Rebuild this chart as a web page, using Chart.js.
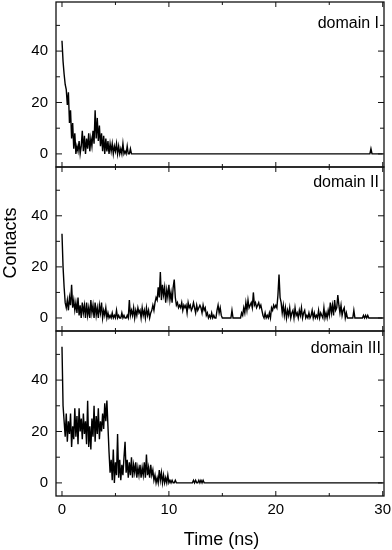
<!DOCTYPE html>
<html>
<head>
<meta charset="utf-8">
<script src="https://cdn.jsdelivr.net/npm/chart.js@4.4.1/dist/chart.umd.min.js"></script>
<style>
html, body { margin: 0; padding: 0; background: #fff; }
#wrap { position: relative; width: 392px; height: 550px; overflow: hidden; }
#wrap canvas { position: absolute; left: 0; top: 0; }
</style>
</head>
<body>
<div id="wrap">
  <canvas id="c1" width="392" height="550" style="width:392px;height:550px"></canvas>
  <canvas id="c2" width="392" height="550" style="width:392px;height:550px"></canvas>
  <canvas id="c3" width="392" height="550" style="width:392px;height:550px"></canvas>
</div>
<script>
// ---- data (contacts vs time, sampled every 0.1 ns from t = 0 to 30 ns) ----
const TIME_STEP_NS = 0.1;
const panelLabels = ['domain I', 'domain II', 'domain III'];
const xAxisTitle = 'Time (ns)';
const yAxisTitle = 'Contacts';
const xTickValues = [0, 10, 20, 30];
const xMinorTickValues = [5, 15, 25];
const yTickValues = [0, 20, 40];
const yMinorTickValues = [10, 30, 50];

const domainI = [
  44,36,31,27,25,19,24,12,17,6,
  12,2,8,0,3,1,5,0,3,9,
  1,7,0,6,2,8,1,6,3,9,
  4,17,6,14,5,11,3,8,1,7,
  0,6,1,5,0,4,1,4,0,3,
  1,4,0,3,0,2,0,4,0,1,
  0,3,0,0,2,0,0,0,0,0,
  0,0,0,0,0,0,0,0,0,0,
  0,0,0,0,0,0,0,0,0,0,
  0,0,0,0,0,0,0,0,0,0,
  0,0,0,0,0,0,0,0,0,0,
  0,0,0,0,0,0,0,0,0,0,
  0,0,0,0,0,0,0,0,0,0,
  0,0,0,0,0,0,0,0,0,0,
  0,0,0,0,0,0,0,0,0,0,
  0,0,0,0,0,0,0,0,0,0,
  0,0,0,0,0,0,0,0,0,0,
  0,0,0,0,0,0,0,0,0,0,
  0,0,0,0,0,0,0,0,0,0,
  0,0,0,0,0,0,0,0,0,0,
  0,0,0,0,0,0,0,0,0,0,
  0,0,0,0,0,0,0,0,0,0,
  0,0,0,0,0,0,0,0,0,0,
  0,0,0,0,0,0,0,0,0,0,
  0,0,0,0,0,0,0,0,0,0,
  0,0,0,0,0,0,0,0,0,0,
  0,0,0,0,0,0,0,0,0,0,
  0,0,0,0,0,0,0,0,0,0,
  0,0,0,0,0,0,0,0,0,2,
  0,0,0,0,0,0,0,0,0,0,
  0
];

const domainII = [
  33,20,12,6,4,7,3,8,5,13,
  4,7,3,6,2,8,1,5,0,6,
  2,5,0,6,1,4,0,7,2,5,
  0,6,1,4,0,5,2,6,0,3,
  1,4,0,2,0,1,0,2,0,1,
  0,3,0,1,0,0,2,0,1,0,
  0,1,0,7,1,3,1,4,0,3,
  1,4,2,3,0,4,1,3,0,4,
  1,3,0,2,3,5,3,6,8,7,
  12,8,18,7,13,9,12,6,11,8,
  13,7,10,6,12,15,8,5,6,4,
  5,4,6,3,5,4,5,2,6,4,
  5,3,4,6,4,2,5,3,4,5,
  4,2,5,3,4,1,2,0,1,0,
  2,0,1,0,0,3,5,2,4,1,
  0,0,0,0,0,0,0,0,0,3,
  0,0,0,0,0,0,0,0,2,1,
  4,2,6,3,7,4,5,6,4,10,
  5,6,4,5,6,4,5,3,1,0,
  2,0,1,0,2,0,4,3,5,4,
  5,4,9,17,8,6,2,5,1,4,
  0,3,1,4,0,2,3,0,4,1,
  2,0,3,1,4,0,2,3,0,1,
  0,2,0,1,3,0,2,0,1,0,
  3,0,2,1,0,4,0,2,0,3,
  1,6,2,5,1,7,3,4,9,5,
  2,5,1,3,4,0,2,0,0,0,
  0,0,0,3,0,0,0,0,0,0,
  0,0,1,0,1,0,1,0,0,0,
  0,0,0,0,0,0,0,0,0,0,
  0
];

const domainIII = [
  53,30,24,18,27,16,24,19,27,14,
  22,17,29,18,26,15,29,20,25,17,
  27,19,24,15,32,14,22,13,25,18,
  30,16,26,19,29,17,24,20,27,21,
  31,24,32,22,12,4,9,1,13,0,
  8,3,19,2,9,1,7,3,10,16,
  4,9,2,8,3,10,2,7,4,8,
  2,6,3,7,2,6,3,8,2,11,
  3,6,2,7,3,5,1,3,0,2,
  0,5,1,4,0,3,0,2,0,3,
  0,1,0,1,0,0,1,0,0,0,
  0,0,0,0,0,0,0,0,0,0,
  0,0,0,1,0,1,0,0,1,0,
  1,0,1,0,0,0,0,0,0,0,
  0,0,0,0,0,0,0,0,0,0,
  0,0,0,0,0,0,0,0,0,0,
  0,0,0,0,0,0,0,0,0,0,
  0,0,0,0,0,0,0,0,0,0,
  0,0,0,0,0,0,0,0,0,0,
  0,0,0,0,0,0,0,0,0,0,
  0,0,0,0,0,0,0,0,0,0,
  0,0,0,0,0,0,0,0,0,0,
  0,0,0,0,0,0,0,0,0,0,
  0,0,0,0,0,0,0,0,0,0,
  0,0,0,0,0,0,0,0,0,0,
  0,0,0,0,0,0,0,0,0,0,
  0,0,0,0,0,0,0,0,0,0,
  0,0,0,0,0,0,0,0,0,0,
  0,0,0,0,0,0,0,0,0,0,
  0,0,0,0,0,0,0,0,0,0,
  0
];

// ---- rendering ----
const FONT = '"Liberation Sans", Arial, Helvetica, sans-serif';
Chart.defaults.font.family = FONT;
Chart.defaults.color = '#000';

function toPoints(values) {
  return values.map((v, i) => ({ x: Math.round(i * TIME_STEP_NS * 100) / 100, y: v }));
}

const framePlugin = {
  id: 'frame',
  afterDraw(chart, args, o) {
    const { ctx, chartArea: a } = chart;
    const xs = chart.scales.x, ys = chart.scales.y;
    ctx.save();
    ctx.strokeStyle = '#111';
    ctx.lineWidth = 1;
    ctx.beginPath();
    const seg = (x1, y1, x2, y2) => { ctx.moveTo(x1, y1); ctx.lineTo(x2, y2); };
    const xt = (v, len) => { const p = xs.getPixelForValue(v); seg(p, a.bottom, p, a.bottom - len); seg(p, a.top, p, a.top + len); };
    const yt = (v, len) => { const p = ys.getPixelForValue(v); seg(a.left, p, a.left + len, p); seg(a.right, p, a.right - len, p); };
    xTickValues.forEach(v => xt(v, 5));
    xMinorTickValues.forEach(v => xt(v, 3));
    yTickValues.forEach(v => yt(v, 6));
    yMinorTickValues.forEach(v => yt(v, 4));
    ctx.stroke();
    ctx.lineWidth = 1.3;
    ctx.strokeRect(a.left, a.top, a.right - a.left, a.bottom - a.top);

    ctx.fillStyle = '#000';
    ctx.font = '16px ' + FONT;
    ctx.textAlign = 'right';
    ctx.textBaseline = 'alphabetic';
    ctx.fillText(o.label, a.right - o.dx, a.top + o.dy);

    if (o.yTitle) {
      ctx.save();
      ctx.font = '18px ' + FONT;
      ctx.textAlign = 'center';
      ctx.translate(16, (a.top + a.bottom) / 2 - 6);
      ctx.rotate(-Math.PI / 2);
      ctx.fillText(o.yTitle, 0, 0);
      ctx.restore();
    }
    if (o.xTitle) {
      ctx.font = '18px ' + FONT;
      ctx.textAlign = 'center';
      ctx.fillText(o.xTitle, (a.left + a.right) / 2 + 1.5, a.bottom + 49);
    }
    ctx.restore();
  }
};

const panels = [
  { id: 'c1', values: domainI,   label: panelLabels[0], top: 2,   bottom: 167, dx: 5, dy: 26, showX: false },
  { id: 'c2', values: domainII,  label: panelLabels[1], top: 167, bottom: 331, dx: 5, dy: 20, showX: false, yTitle: yAxisTitle },
  { id: 'c3', values: domainIII, label: panelLabels[2], top: 331, bottom: 496, dx: 3, dy: 22, showX: true, xTitle: xAxisTitle }
];

panels.forEach(p => {
  new Chart(document.getElementById(p.id), {
    type: 'line',
    data: {
      datasets: [{
        data: toPoints(p.values),
        borderColor: '#000',
        borderWidth: 1.4,
        pointRadius: 0,
        tension: 0,
        fill: false
      }]
    },
    options: {
      responsive: false,
      animation: false,
      events: [],
      layout: { padding: { top: p.top, bottom: p.showX ? 0 : 550 - p.bottom, left: 0, right: 8 } },
      plugins: {
        legend: { display: false },
        tooltip: { enabled: false },
        frame: { label: p.label, dx: p.dx, dy: p.dy, yTitle: p.yTitle, xTitle: p.xTitle }
      },
      scales: {
        x: {
          type: 'linear',
          min: -0.56,
          max: 30.12,
          display: p.showX,
          grid: { display: false, drawTicks: false, tickLength: 0 },
          border: { display: false },
          ticks: { stepSize: 10, includeBounds: false, maxRotation: 0, autoSkip: false, padding: 5, font: { size: 15 }, color: '#000' },
          afterFit: s => { s.height = p.showX ? 54 : 0; s.paddingLeft = 0; s.paddingRight = 0; }
        },
        y: {
          type: 'linear',
          min: -5.1,
          max: 59.1,
          grid: { display: false, drawTicks: false, tickLength: 0 },
          border: { display: false },
          ticks: { stepSize: 20, includeBounds: false, padding: 8, font: { size: 15 }, color: '#000' },
          afterFit: s => { s.width = 56; s.paddingTop = 0; s.paddingBottom = 0; }
        }
      }
    },
    plugins: [framePlugin]
  });
});
</script>
</body>
</html>
